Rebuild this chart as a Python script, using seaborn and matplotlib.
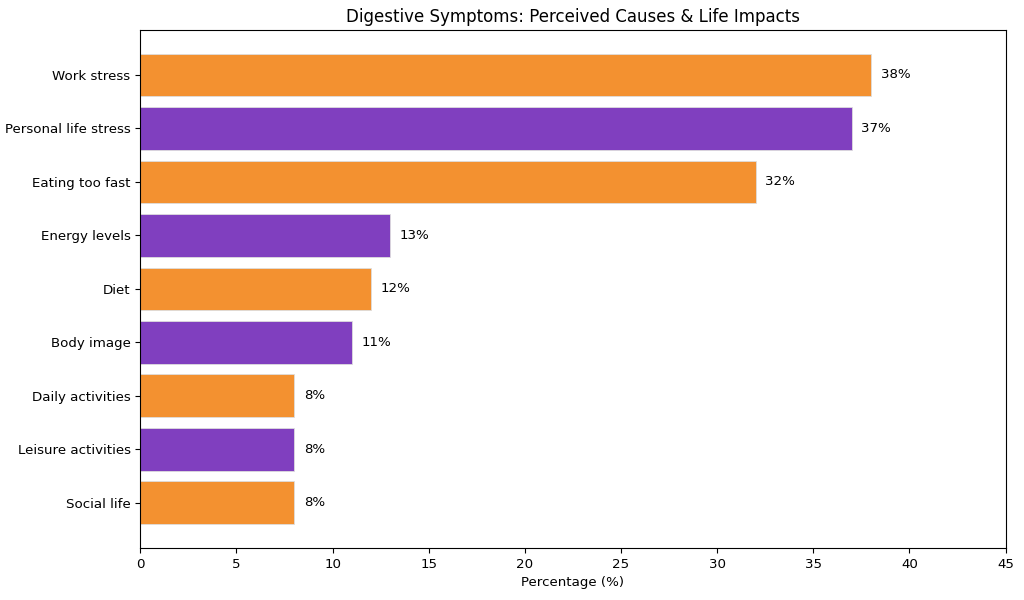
import pandas as pd
import seaborn as sns
import matplotlib.pyplot as plt

# Data
categories = ['Work stress', 'Personal life stress', 'Eating too fast', 'Energy levels',
              'Diet', 'Body image', 'Daily activities', 'Leisure activities', 'Social life']
percentages = [38, 37, 32, 13, 12, 11, 8, 8, 8]
bar_colors = ['#F39130', '#803FBF', '#F39130', '#803FBF', '#F39130',
              '#803FBF', '#F39130', '#803FBF', '#F39130']

df = pd.DataFrame({'category': categories, 'pct': percentages})

plt.rcParams['font.family'] = ['DejaVu Sans']

fig, ax = plt.subplots(figsize=(10.24, 6), dpi=100)

sns.barplot(data=df, y='category', x='pct', hue='category', palette=bar_colors,
            legend=False, orient='h', width=0.8, edgecolor='#dddddd', linewidth=0.6,
            saturation=1, ax=ax)

# Value labels to the right of each bar
for i, v in enumerate(percentages):
    ax.text(v + 0.5, i, f'{v}%', va='center', ha='left', fontsize=9.6, color='black')

ax.set_xlim(0, 45)
ax.set_ylim(len(categories) - 1 + 0.84, -0.84)
ax.set_xticks(range(0, 46, 5))
ax.set_title('Digestive Symptoms: Perceived Causes & Life Impacts', fontsize=12)
ax.set_xlabel('Percentage (%)', fontsize=9.6)
ax.set_ylabel('')
ax.tick_params(axis='both', labelsize=9.6, length=3.5, colors='black')

plt.subplots_adjust(left=0.137, right=0.982, top=0.95, bottom=0.087)
plt.savefig('out.png', dpi=100)
